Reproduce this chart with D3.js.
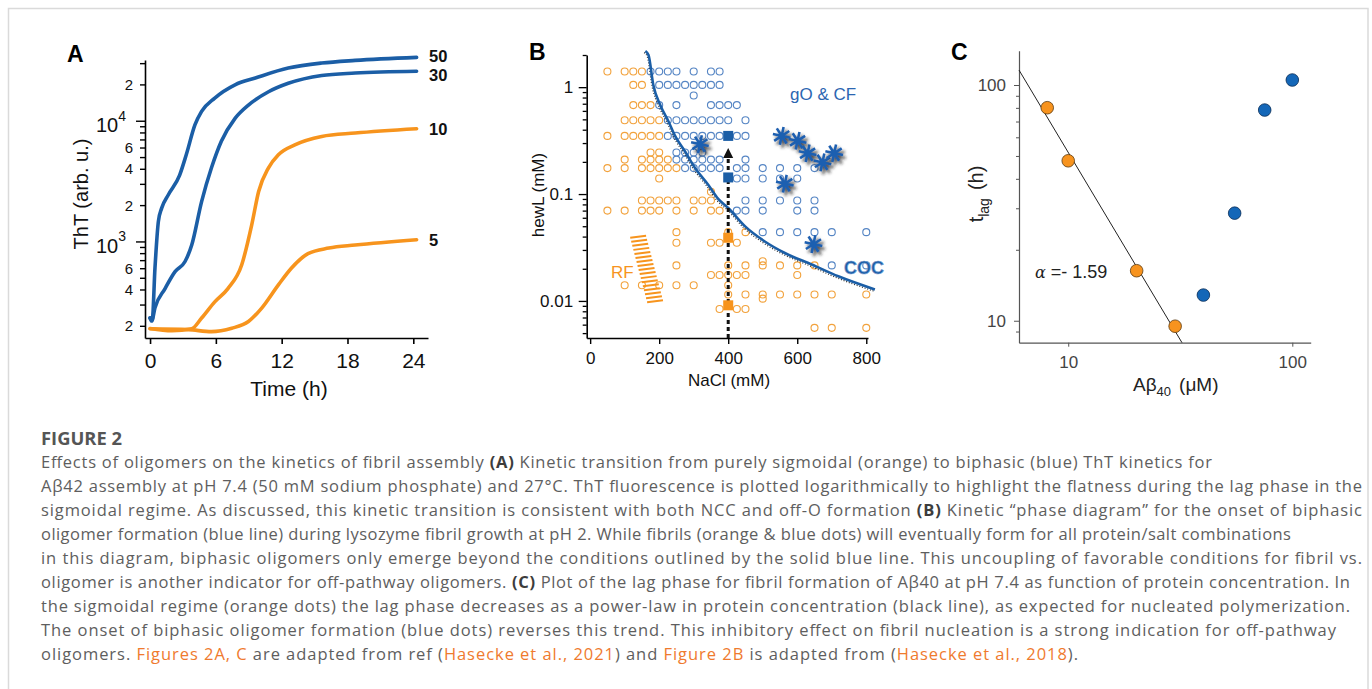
<!DOCTYPE html>
<html>
<head>
<meta charset="utf-8">
<script src="https://cdn.jsdelivr.net/npm/d3@7"></script>
<style>
  body { margin: 0; background: #fff; }
  svg { display: block; font-family: "Liberation Sans", Arial, sans-serif; }
</style>
</head>
<body>
<svg id="figure" width="1372" height="689"></svg>
<script>
// ---- panel A: ThT kinetics, [time (h), ThT (arb. u.)]
var curve50 = [[0,232],[0.2,224],[0.45,603],[0.76,1466],[1.06,1888],[1.67,2438],[2.7,3548],[3.3,5224],[4.1,9268],[4.7,11940],[5.9,15420],[7.75,19860],[9.6,22590],[12.6,27290],[15.65,30060],[18.7,31620],[24.3,33500]];
var curve30 = [[0,232],[0.15,219],[0.45,282],[1.37,407],[2.28,562],[3.19,682],[3.8,933],[4.7,2138],[5.6,4074],[6.5,6761],[7.75,10470],[8.97,13490],[10.8,17380],[12.6,20420],[15.65,23710],[18.7,24830],[24.3,25700]];
var curve10 = [[0,190],[2,182],[3.8,189],[4.7,232],[5.9,316],[7.1,407],[8.36,641],[9.27,1374],[9.9,2594],[10.8,4074],[11.7,5224],[13.2,6310],[15.65,7413],[18.7,7907],[24.3,8590]];
var curve5 = [[0,189],[3.5,186],[5.6,179],[7.45,191],[8.97,217],[10.2,282],[11.7,437],[12.9,603],[14.4,794],[16.3,881],[18.7,933],[24.3,1033]];
var curveNames = ["50", "30", "10", "5"];
var timeTicks = [0, 6, 12, 18, 24];
var thtTicks = [200,300,400,500,600,700,800,900,1000,2000,3000,4000,5000,6000,7000,8000,9000,10000,20000,30000];
var thtDigitLabels = [200, 400, 600, 2000, 4000, 6000, 20000];
var thtDecades = [1000, 10000];

// ---- panel B: phase diagram, hewL (mM) rows and NaCl (mM) positions
var hewLRows = [1.4, 1.05, 0.835, 0.68, 0.49, 0.35, 0.245, 0.21, 0.175, 0.14, 0.105, 0.087, 0.07, 0.044, 0.035, 0.0235, 0.0215, 0.0175, 0.014, 0.0115, 0.0105, 0.0084, 0.0056];
var orangeNaClRows = [
  [50,100,125,150], [125,150], [], [125,150,175], [100,125,150,175,200],
  [50,100,125,150,175,200], [175,200], [100,150,175,200,225],
  [50,100,150,175,200,225,250], [200], [350],
  [150,175,200,225,250,300,325,350], [50,100,150,175,200,250,300,350,375],
  [250,400,450], [250,350,375,425], [500], [250,400,450,500,550,600,650],
  [350,375,400,425,450,600], [100,150,200,250,300,400],
  [400,450,500,550,600,650,700,800], [500], [375,425,450], [650,700,800]
];
var blueNaClRows = [
  [175,200,225,250,300,350,375], [200,225,250,275,300,325,350,375], [300],
  [200,250,350,375,400,425], [225,250,275,300,325,350,375,400,450],
  [225,250,275,300,325,350,375,425,450], [250,275,300,325],
  [250,275,300,325,350,375,450], [275,300,325,350,375,425,450,500,550,600,650],
  [425,450,500,550,600], [], [450,500,550,600,650], [425,450,500,600,650],
  [500,550,600,650,700,800], [], [], [700,800], [], [], [], [], [], []
];
var cocCurve = [[160,2.18],[169,2.0],[183,1.05],[203,0.68],[227,0.478],[246,0.35],[275,0.25],[304,0.175],[342,0.122],[371,0.09],[400,0.074],[449,0.0498],[506,0.036],[564,0.0281],[642,0.0219],[719,0.017],[825,0.0128]];
var blueSquares = [[400,0.35],[400,0.143]];
var orangeSquares = [[400,0.039],[400,0.0091]];
var starPoints = [[318,0.293],[555,0.35],[601,0.315],[630,0.241],[673,0.198],[707,0.241],[564,0.125],[647,0.034]];
var arrowNaCl = 400, arrowTop = 0.27;
var naclTicks = [0, 200, 400, 600, 800];
var hewLMajor = [0.01, 0.1, 1];
var rfBand = {x0: 116, y0: 0.039, x1: 165, y1: 0.0097, lines: 17, len: 46};

// ---- panel C: lag time vs A-beta40 concentration, [uM, h]
var sigmoidalPoints = [[8.06,80.1],[10.0,47.7],[20.2,16.3],[30.0,9.48]];
var biphasicPoints = [[40.1,12.85],[55.3,28.6],[75.3,78.3],[100,105]];
var fitAlpha = -1.59, fitPrefactor = 2014;
var concTicks = [10, 100];
var lagTicks = [9,10,20,30,40,50,60,70,80,90,100];

// ---- caption
var captionLines = [
  [["Effects of oligomers on the kinetics of fibril assembly ","n"],["(A)","b"],[" Kinetic transition from purely sigmoidal (orange) to biphasic (blue) ThT kinetics for","n"]],
  [["Aβ42 assembly at pH 7.4 (50 mM sodium phosphate) and 27°C. ThT fluorescence is plotted logarithmically to highlight the flatness during the lag phase in the","n"]],
  [["sigmoidal regime. As discussed, this kinetic transition is consistent with both NCC and off-O formation ","n"],["(B)","b"],[" Kinetic “phase diagram” for the onset of biphasic","n"]],
  [["oligomer formation (blue line) during lysozyme fibril growth at pH 2. While fibrils (orange & blue dots) will eventually form for all protein/salt combinations","n"]],
  [["in this diagram, biphasic oligomers only emerge beyond the conditions outlined by the solid blue line. This uncoupling of favorable conditions for fibril vs.","n"]],
  [["oligomer is another indicator for off-pathway oligomers. ","n"],["(C)","b"],[" Plot of the lag phase for fibril formation of Aβ40 at pH 7.4 as function of protein concentration. In","n"]],
  [["the sigmoidal regime (orange dots) the lag phase decreases as a power-law in protein concentration (black line), as expected for nucleated polymerization.","n"]],
  [["The onset of biphasic oligomer formation (blue dots) reverses this trend. This inhibitory effect on fibril nucleation is a strong indication for off-pathway","n"]],
  [["oligomers. ","n"],["Figures 2A, C","l"],[" are adapted from ref (","n"],["Hasecke et al., 2021","l"],[") and ","n"],["Figure 2B","l"],[" is adapted from (","n"],["Hasecke et al., 2018","l"],[").","n"]]
];
var captionLineEnds = [1212, 1362, 1362, 1291, 1362, 1350, 1350, 1336, 1078];

var svg;
var orange = "#f7941d";
var blue = "#1b5ea6";

document.addEventListener('DOMContentLoaded', function() {
  svg = d3.select('#figure');

  var defs = svg.append("defs");
  var f = defs.append("filter").attr("id", "starShadow")
    .attr("x", "-60%").attr("y", "-60%").attr("width", "220%").attr("height", "220%");
  f.append("feDropShadow").attr("dx", 2.5).attr("dy", 3).attr("stdDeviation", 1.8)
    .attr("flood-color", "#222").attr("flood-opacity", 0.8);

  // light frame round the figure
  svg.append("rect")
    .attr("x", 8.5).attr("y", 8.5).attr("width", 1359.5).attr("height", 720)
    .attr("fill", "none").attr("stroke", "#dadada").attr("stroke-width", 1.5);

  drawPanelA();
  drawPanelB();
  drawPanelC();
  drawCaption();
});

function panelLetter(txt, x, y) {
  svg.append("text").attr("x", x).attr("y", y)
    .attr("font-size", 23).attr("font-weight", "bold").attr("fill", "#000")
    .text(txt);
}

function drawPanelA() {
  var g = svg.append("g");
  var x = d3.scaleLinear().domain([-0.46, 25.34]).range([145, 428]);
  var y = d3.scaleLog().domain([158.5, 31860]).range([338, 60]);

  panelLetter("A", 67, 62);

  g.append("g")
    .attr("transform", "translate(0,338)")
    .call(d3.axisBottom(x).tickValues(timeTicks).tickSize(6).tickSizeOuter(0).tickPadding(9))
    .call(s => s.select(".domain").attr("stroke-width", 1.6))
    .call(s => s.selectAll(".tick line").attr("stroke-width", 1.6))
    .call(s => s.selectAll(".tick text").attr("font-size", 21).attr("font-family", "Liberation Sans, Arial").attr("fill", "#111"));

  g.append("g")
    .attr("transform", "translate(145,0)")
    .call(d3.axisLeft(y).tickValues(thtTicks).tickSize(5).tickSizeOuter(0).tickFormat(""))
    .call(s => s.select(".domain").attr("stroke-width", 1.6))
    .call(s => s.selectAll(".tick line").attr("stroke-width", 1.4)
      .attr("x2", function(d) { return thtDecades.indexOf(d) >= 0 ? -9 : -5; }));

  g.selectAll(".digitLabel")
    .data(thtDigitLabels)
    .enter().append("text")
    .attr("x", 133)
    .attr("y", function(d) { return y(d); })
    .attr("dy", "0.36em")
    .attr("text-anchor", "end")
    .attr("font-size", 15)
    .attr("fill", "#111")
    .text(function(d) { return String(d)[0]; });

  var dec = g.selectAll(".decLabel")
    .data(thtDecades)
    .enter().append("text")
    .attr("x", 126)
    .attr("y", function(d) { return y(d) + 11.5; })
    .attr("text-anchor", "end")
    .attr("fill", "#111");
  dec.append("tspan").attr("font-size", 20).text("10");
  dec.append("tspan").attr("font-size", 14).attr("dy", -11.5)
    .text(function(d) { return Math.round(Math.log10(d)); });

  var line = d3.line()
    .x(function(d) { return x(d[0]); })
    .y(function(d) { return y(d[1]); })
    .curve(d3.curveMonotoneX);

  var curves = [curve50, curve30, curve10, curve5];
  var colors = [blue, blue, orange, orange];
  var labelShift = [-1.5, 3.5, 0, 0];
  curves.forEach(function(c, i) {
    g.append("path")
      .attr("d", line(c))
      .attr("fill", "none")
      .attr("stroke", colors[i])
      .attr("stroke-width", 3.6)
      .attr("stroke-linejoin", "round")
      .attr("stroke-linecap", "round");
    g.append("text")
      .attr("x", 429)
      .attr("y", y(c[c.length - 1][1]) + labelShift[i])
      .attr("dy", "0.36em")
      .attr("font-size", 16.5)
      .attr("font-weight", "bold")
      .attr("fill", "#111")
      .text(curveNames[i]);
  });

  g.append("text")
    .attr("x", 289).attr("y", 396)
    .attr("text-anchor", "middle")
    .attr("font-size", 21)
    .attr("fill", "#111")
    .text("Time (h)");

  g.append("text")
    .attr("transform", "translate(88,194) rotate(-90)")
    .attr("text-anchor", "middle")
    .attr("font-size", 20)
    .attr("fill", "#111")
    .text("ThT (arb. u.)");
}

function drawPanelB() {
  var g = svg.append("g");
  var x = d3.scaleLinear().domain([-10, 805]).range([586.7, 868]);
  var y = d3.scaleLog().domain([0.0045, 2.0]).range([338, 55]);

  panelLetter("B", 529, 60);

  var minorTicks = [];
  [0.001, 0.01, 0.1, 1].forEach(function(p) {
    for (var k = 2; k <= 9; k++) {
      var v = +(k * p).toPrecision(3);
      if (v >= 0.0045 && v <= 2.0) minorTicks.push(v);
    }
  });

  g.append("g")
    .attr("transform", "translate(0,338)")
    .call(d3.axisBottom(x).tickValues(naclTicks).tickSize(6).tickSizeOuter(0).tickPadding(8))
    .call(s => s.select(".domain").attr("stroke-width", 1.6))
    .call(s => s.selectAll(".tick line").attr("stroke-width", 1.4))
    .call(s => s.selectAll(".tick text").attr("font-size", 17).attr("font-family", "Liberation Sans, Arial").attr("fill", "#111"));

  g.append("g")
    .attr("transform", "translate(586.7,0)")
    .call(d3.axisLeft(y).tickValues(hewLMajor.concat(minorTicks)).tickSize(4).tickSizeOuter(0).tickPadding(9.5)
      .tickFormat(function(d) { return hewLMajor.indexOf(d) >= 0 ? String(d) : ""; }))
    .call(s => s.select(".domain").attr("stroke-width", 1.6))
    .call(s => s.selectAll(".tick line").attr("stroke-width", 1.3)
      .attr("x2", function(d) { return hewLMajor.indexOf(d) >= 0 ? -8 : -4; }))
    .call(s => s.selectAll(".tick text").attr("font-size", 17).attr("font-family", "Liberation Sans, Arial").attr("fill", "#111"));

  // open circles for every measured condition
  var orangeDots = [], blueDots = [];
  hewLRows.forEach(function(h, i) {
    orangeNaClRows[i].forEach(function(n) { orangeDots.push([n, h]); });
    blueNaClRows[i].forEach(function(n) { blueDots.push([n, h]); });
  });

  g.selectAll(".odot")
    .data(orangeDots)
    .enter().append("circle")
    .attr("cx", function(d) { return x(d[0]); })
    .attr("cy", function(d) { return y(d[1]); })
    .attr("r", 3.5)
    .attr("fill", "none")
    .attr("stroke", "#f2a23c")
    .attr("stroke-width", 1.1);

  g.selectAll(".bdot")
    .data(blueDots)
    .enter().append("circle")
    .attr("cx", function(d) { return x(d[0]); })
    .attr("cy", function(d) { return y(d[1]); })
    .attr("r", 3.5)
    .attr("fill", "none")
    .attr("stroke", "#5585c4")
    .attr("stroke-width", 1.1);

  // RF hatch band
  var rf = g.append("g");
  for (var k = 0; k < rfBand.lines; k++) {
    var t = k / (rfBand.lines - 1);
    var n0 = rfBand.x0 + (rfBand.x1 - rfBand.x0) * t;
    var hv = Math.exp(Math.log(rfBand.y0) + (Math.log(rfBand.y1) - Math.log(rfBand.y0)) * t);
    rf.append("line")
      .attr("x1", x(n0)).attr("y1", y(hv))
      .attr("x2", x(n0 + rfBand.len)).attr("y2", y(hv) - 2)
      .attr("stroke", orange).attr("stroke-width", 2);
  }

  var line = d3.line()
    .x(function(d) { return x(d[0]); })
    .y(function(d) { return y(d[1]); })
    .curve(d3.curveMonotoneX);

  g.append("path")
    .attr("d", line(cocCurve))
    .attr("transform", "translate(-1.2,1.6)")
    .attr("fill", "none")
    .attr("stroke", "#333")
    .attr("stroke-width", 1.3)
    .attr("stroke-dasharray", "1,1.8");

  g.append("path")
    .attr("d", line(cocCurve))
    .attr("fill", "none")
    .attr("stroke", blue)
    .attr("stroke-width", 2.6);

  // dashed arrow
  var ax = x(arrowNaCl), tipY = y(arrowTop);
  g.append("line")
    .attr("x1", ax).attr("x2", ax)
    .attr("y1", 338).attr("y2", tipY + 9)
    .attr("stroke", "#111").attr("stroke-width", 3)
    .attr("stroke-dasharray", "4,3");
  g.append("path")
    .attr("d", "M" + ax + "," + tipY + "L" + (ax + 5) + "," + (tipY + 10) + "L" + (ax - 5) + "," + (tipY + 10) + "Z")
    .attr("fill", "#111");

  g.selectAll(".bsq")
    .data(blueSquares)
    .enter().append("rect")
    .attr("x", function(d) { return x(d[0]) - 5; })
    .attr("y", function(d) { return y(d[1]) - 5; })
    .attr("width", 10).attr("height", 10)
    .attr("fill", blue);

  g.selectAll(".osq")
    .data(orangeSquares)
    .enter().append("rect")
    .attr("x", function(d) { return x(d[0]) - 5; })
    .attr("y", function(d) { return y(d[1]) - 5; })
    .attr("width", 10).attr("height", 10)
    .attr("fill", orange);

  // asterisk markers
  g.selectAll(".star")
    .data(starPoints)
    .enter().append("path")
    .attr("d", function(d) {
      var cx = x(d[0]), cy = y(d[1]), r = 9, p = "";
      for (var k = 0; k < 4; k++) {
        var a = (k * 45 + 12) * Math.PI / 180;
        p += "M" + (cx - r * Math.cos(a)) + "," + (cy - r * Math.sin(a)) +
             "L" + (cx + r * Math.cos(a)) + "," + (cy + r * Math.sin(a));
      }
      return p;
    })
    .attr("stroke", "#1f5fb0")
    .attr("stroke-width", 2.6)
    .attr("fill", "none")
    .attr("filter", "url(#starShadow)");

  g.append("text").attr("x", 790).attr("y", 100)
    .attr("font-size", 17).attr("fill", "#2b66b1").text("gO & CF");
  g.append("text").attr("x", 844).attr("y", 274)
    .attr("font-size", 18).attr("font-weight", "bold").attr("fill", blue)
    .attr("stroke", "#7fa3d3").attr("stroke-width", 0.6).text("COC");
  g.append("text").attr("x", 611).attr("y", 278)
    .attr("font-size", 17).attr("fill", orange).text("RF");

  g.append("text")
    .attr("x", 729).attr("y", 386)
    .attr("text-anchor", "middle")
    .attr("font-size", 17).attr("fill", "#111")
    .text("NaCl (mM)");
  g.append("text")
    .attr("transform", "translate(544,195) rotate(-90)")
    .attr("text-anchor", "middle")
    .attr("font-size", 17).attr("fill", "#111")
    .text("hewL (mM)");
}

function drawPanelC() {
  var g = svg.append("g");
  var x = d3.scaleLog().domain([6.03, 120.8]).range([1019, 1310.7]);
  var y = d3.scaleLog().domain([8.07, 139.8]).range([342.7, 50.7]);

  panelLetter("C", 951, 60);

  g.append("g")
    .attr("transform", "translate(0,342.7)")
    .call(d3.axisBottom(x).tickValues(concTicks).tickSize(4).tickSizeOuter(0).tickPadding(9)
      .tickFormat(d3.format("d")))
    .call(s => s.select(".domain").attr("stroke", "#555").attr("stroke-width", 1.2))
    .call(s => s.selectAll(".tick line").attr("stroke", "#555"))
    .call(s => s.selectAll(".tick text").attr("font-size", 17).attr("font-family", "Liberation Sans, Arial").attr("fill", "#444"));

  g.append("g")
    .attr("transform", "translate(1019,0)")
    .call(d3.axisLeft(y).tickValues(lagTicks).tickSize(3).tickSizeOuter(0).tickPadding(10)
      .tickFormat(function(d) { return concTicks.indexOf(d) >= 0 ? d : ""; }))
    .call(s => s.select(".domain").attr("stroke", "#555").attr("stroke-width", 1.2))
    .call(s => s.selectAll(".tick line").attr("stroke", "#555")
      .attr("x2", function(d) { return concTicks.indexOf(d) >= 0 ? -5 : -3; }))
    .call(s => s.selectAll(".tick text").attr("font-size", 17).attr("font-family", "Liberation Sans, Arial").attr("fill", "#444"));

  // power-law fit, clipped to the axes
  var c0 = x.domain()[0];
  var c1 = Math.pow(y.domain()[0] / fitPrefactor, 1 / fitAlpha);
  g.append("line")
    .attr("x1", x(c0)).attr("y1", y(fitPrefactor * Math.pow(c0, fitAlpha)))
    .attr("x2", x(c1)).attr("y2", y(fitPrefactor * Math.pow(c1, fitAlpha)))
    .attr("stroke", "#222").attr("stroke-width", 1);

  g.selectAll(".sig")
    .data(sigmoidalPoints)
    .enter().append("circle")
    .attr("cx", function(d) { return x(d[0]); })
    .attr("cy", function(d) { return y(d[1]); })
    .attr("r", 6.3)
    .attr("fill", "#f7931e")
    .attr("stroke", "#5a3a10").attr("stroke-width", 0.8);

  g.selectAll(".bip")
    .data(biphasicPoints)
    .enter().append("circle")
    .attr("cx", function(d) { return x(d[0]); })
    .attr("cy", function(d) { return y(d[1]); })
    .attr("r", 6.3)
    .attr("fill", "#1467b8")
    .attr("stroke", "#0b2d55").attr("stroke-width", 0.8);

  var a = g.append("text").attr("x", 1035).attr("y", 278).attr("fill", "#222").attr("font-size", 18);
  a.append("tspan").attr("font-style", "italic").attr("font-family", "DejaVu Serif, serif").attr("font-size", 16).text("α");
  a.append("tspan").text(" =- 1.59");

  var xl = g.append("text").attr("x", 1133).attr("y", 391).attr("fill", "#222").attr("font-size", 19);
  xl.append("tspan").text("Aβ");
  xl.append("tspan").attr("font-size", 13).attr("dy", 5).text("40");
  xl.append("tspan").attr("dy", -5).attr("dx", 8).text("(μM)");

  var yl = g.append("text").attr("transform", "translate(983,194) rotate(-90)")
    .attr("text-anchor", "middle").attr("fill", "#222").attr("font-size", 20);
  yl.append("tspan").text("t");
  yl.append("tspan").attr("font-size", 14).attr("dy", 6).text("lag");
  yl.append("tspan").attr("dy", -6).attr("dx", 8).text("(h)");
}

function drawCaption() {
  var g = svg.append("g").attr("font-family", "'Open Sans', 'Noto Sans', sans-serif");

  g.append("text")
    .attr("x", 41).attr("y", 445)
    .attr("font-size", 17).attr("font-weight", "bold")
    .attr("fill", "#555")
    .attr("textLength", 81).attr("lengthAdjust", "spacingAndGlyphs")
    .text("FIGURE 2");

  captionLines.forEach(function(segs, i) {
    var t = g.append("text")
      .attr("x", 41)
      .attr("y", 468 + i * 24)
      .attr("font-size", 16.5)
      .attr("fill", "#5e5e5e")
      .attr("textLength", captionLineEnds[i] - 41)
      .attr("lengthAdjust", "spacing");
    segs.forEach(function(s) {
      var sp = t.append("tspan").text(s[0]);
      if (s[1] === "b") sp.attr("font-weight", "bold").attr("fill", "#3c3c3c");
      if (s[1] === "l") sp.attr("fill", "#ef7a2e");
    });
  });
}
</script>
</body>
</html>
